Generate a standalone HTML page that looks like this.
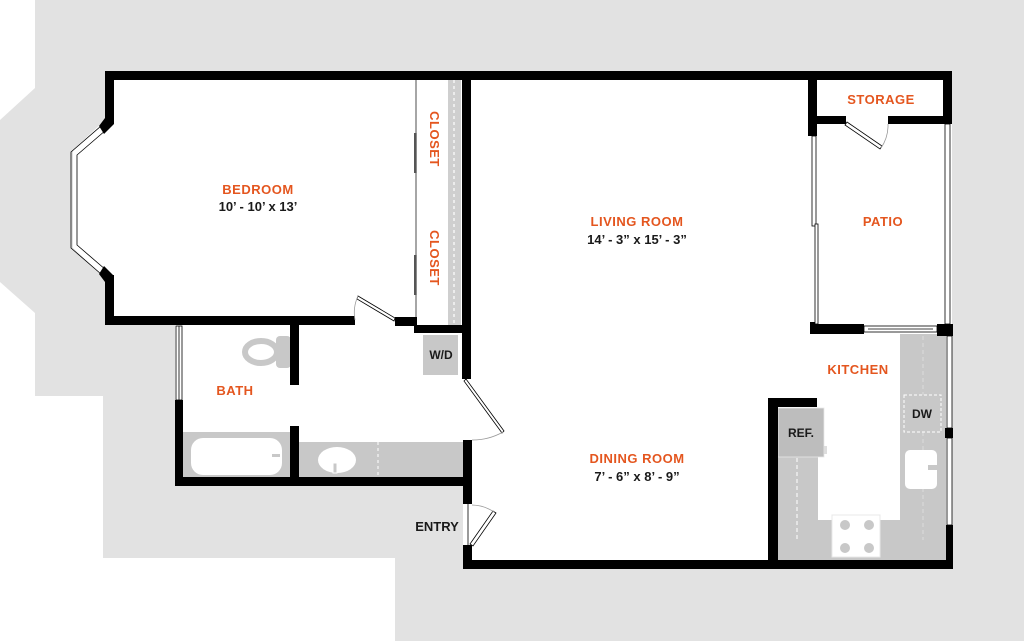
<!DOCTYPE html>
<html><head><meta charset="utf-8"><style>
html,body{margin:0;padding:0;background:#fff;}
svg{display:block;}
text{font-family:"Liberation Sans",sans-serif;font-weight:bold;}
.o{fill:#e4561f;font-size:13px;letter-spacing:0.5px;}
.k{fill:#1a1a1a;font-size:13px;}
</style></head><body>
<svg width="1024" height="641" viewBox="0 0 1024 641" xmlns="http://www.w3.org/2000/svg">
<rect width="1024" height="641" fill="#fff"/>
<polygon fill="#e2e2e2" points="35,0 1024,0 1024,641 395,641 395,558 103,558 103,396 35,396 35,313 0,282 0,120 35,88"/>
<!-- interior white -->
<polygon fill="#fff" points="105,71 952,71 952,569 463,569 463,486 175,486 175,324 105,324 105,278 73,248 73,150 105,120"/>
<!-- closet gray strip -->
<rect x="448" y="80" width="13" height="245" fill="#cfcfcf"/>
<line x1="454" y1="80" x2="454" y2="325" stroke="#fff" stroke-width="1.2" stroke-dasharray="3,3"/>
<line x1="416" y1="80" x2="416" y2="325" stroke="#888" stroke-width="1.5"/>
<rect x="414" y="133" width="2.5" height="40" fill="#555"/>
<rect x="414" y="255" width="2.5" height="40" fill="#555"/>
<!-- W/D -->
<rect x="423" y="335" width="35" height="40" fill="#c8c8c8"/>
<!-- bath fixtures -->
<rect x="183" y="432" width="107" height="46" fill="#c8c8c8"/>
<rect x="191" y="438" width="91" height="37" rx="12" fill="#fff"/>
<rect x="272" y="454" width="8" height="3" fill="#c8c8c8"/>
<rect x="299" y="442" width="164" height="36" fill="#c8c8c8"/>
<ellipse cx="337" cy="460" rx="19" ry="13" fill="#fff"/>
<rect x="333" y="463" width="4" height="10" fill="#c8c8c8" stroke="#fff" stroke-width="1"/>
<line x1="378" y1="442" x2="378" y2="478" stroke="#fff" stroke-width="1" stroke-dasharray="3,3"/>
<ellipse cx="261" cy="352" rx="16" ry="11" fill="none" stroke="#c8c8c8" stroke-width="6"/>
<rect x="276" y="336" width="15" height="32" rx="4" fill="#c8c8c8"/>
<!-- kitchen counters -->
<rect x="778" y="408" width="40" height="152" fill="#c8c8c8"/>
<rect x="778" y="520" width="168" height="40" fill="#c8c8c8"/>
<rect x="900" y="334" width="46" height="226" fill="#c8c8c8"/>
<rect x="778" y="408" width="46" height="49" fill="#bdbdbd" stroke="#e8e8e8" stroke-width="0.8"/>
<rect x="824" y="446" width="3" height="8" fill="#ddd"/>
<line x1="797" y1="458" x2="797" y2="540" stroke="#fff" stroke-width="1" stroke-dasharray="4,3"/>
<line x1="923" y1="336" x2="923" y2="395" stroke="#ddd" stroke-width="1" stroke-dasharray="4,3"/>
<line x1="923" y1="432" x2="923" y2="540" stroke="#ddd" stroke-width="1" stroke-dasharray="4,3"/>
<rect x="904" y="395" width="37" height="37" fill="none" stroke="#fff" stroke-width="1" stroke-dasharray="3,2"/>
<rect x="905" y="450" width="32" height="39" rx="5" fill="#fff"/>
<rect x="928" y="465" width="12" height="5" fill="#c8c8c8"/>
<rect x="832" y="515" width="48" height="42" fill="#fff" stroke="#e8e8e8"/>
<circle cx="845" cy="525" r="5" fill="#c8c8c8"/><circle cx="869" cy="525" r="5" fill="#c8c8c8"/>
<circle cx="845" cy="548" r="5" fill="#c8c8c8"/><circle cx="869" cy="548" r="5" fill="#c8c8c8"/>
<!-- walls -->
<g fill="#000">
<rect x="105" y="71" width="847" height="9"/>
<rect x="105" y="71" width="9" height="53"/>
<rect x="105" y="275" width="9" height="50"/>
<polygon points="105,118 114,124 104,134 99,126"/>
<polygon points="105,282 114,276 104,266 99,274"/>
<rect x="105" y="316" width="250" height="9"/>
<rect x="395" y="317" width="22" height="9"/>
<rect x="414" y="325" width="49" height="8"/>
<rect x="462" y="71" width="9" height="308"/>
<rect x="463" y="440" width="9" height="46"/>
<rect x="175" y="477" width="297" height="9"/>
<rect x="175" y="400" width="8" height="86"/>
<rect x="290" y="324" width="9" height="61"/>
<rect x="290" y="426" width="9" height="60"/>
<rect x="463" y="486" width="9" height="18"/>
<rect x="463" y="545" width="9" height="24"/>
<rect x="463" y="560" width="315" height="9"/>
<rect x="768" y="398" width="10" height="171"/>
<rect x="768" y="398" width="49" height="9"/>
<rect x="768" y="560" width="185" height="9"/>
<rect x="946" y="525" width="7" height="44"/>
<rect x="943" y="71" width="9" height="53"/>
<rect x="808" y="71" width="9" height="65"/>
<rect x="808" y="116" width="38" height="8"/>
<rect x="888" y="116" width="64" height="8"/>
<rect x="810" y="324" width="54" height="10"/>
<rect x="810" y="322" width="7" height="12"/>
<rect x="937" y="324" width="16" height="12"/>
<rect x="945" y="428" width="8" height="10"/>
</g>
<!-- windows -->
<g fill="none" stroke="#000" stroke-width="0.8">
<polyline points="101,126 71,152 71,248 101,274"/>
<polyline points="106,130 77,155 77,245 106,270"/>
<rect x="176" y="326" width="6" height="74" fill="#fff"/>
<line x1="179" y1="326" x2="179" y2="400"/>
<rect x="812" y="136" width="4" height="90" fill="#fff"/>
<rect x="815" y="224" width="3" height="100" fill="#fff"/>
<rect x="945" y="124" width="5" height="200" fill="#fff"/>
<rect x="864" y="326" width="73" height="6" fill="#fff"/>
<line x1="868" y1="329" x2="933" y2="329"/>
<rect x="947" y="336" width="5" height="92" fill="#fff"/>
<rect x="947" y="438" width="5" height="87" fill="#fff"/>
</g>
<!-- doors -->
<g stroke="#000" stroke-width="0.8">
<polygon points="358,296 395,318 394,321 357,299" fill="#fff"/>
<path d="M358,296 A40,40 0 0 0 355,320" fill="none" stroke="#999"/>
<polygon points="466,379 504,431 502,433 464,381" fill="#fff"/>
<path d="M503,432 A62,62 0 0 1 472,440" fill="none" stroke="#999"/>
<polygon points="470,544 493,511 496,513 473,546" fill="#fff"/>
<path d="M472,505 A40,40 0 0 1 494,512" fill="none" stroke="#999"/>
<line x1="468" y1="504" x2="468" y2="545"/>
<polygon points="847,122 882,146 880,149 845,125" fill="#fff"/>
<path d="M888,124 A40,40 0 0 1 881,148" fill="none" stroke="#999"/>
</g>
<!-- labels -->
<text class="o" x="258" y="194" text-anchor="middle">BEDROOM</text>
<text class="k" x="258" y="211" text-anchor="middle">10’ - 10’ x 13’</text>
<text class="o" x="637" y="226" text-anchor="middle">LIVING ROOM</text>
<text class="k" x="637" y="244" text-anchor="middle">14’ - 3” x 15’ - 3”</text>
<text class="o" x="637" y="463" text-anchor="middle">DINING ROOM</text>
<text class="k" x="637" y="481" text-anchor="middle">7’ - 6” x 8’ - 9”</text>
<text class="o" x="881" y="104" text-anchor="middle">STORAGE</text>
<text class="o" x="883" y="226" text-anchor="middle">PATIO</text>
<text class="o" x="858" y="374" text-anchor="middle">KITCHEN</text>
<text class="o" x="235" y="395" text-anchor="middle">BATH</text>
<text class="o" transform="translate(430,139) rotate(90)" text-anchor="middle">CLOSET</text>
<text class="o" transform="translate(430,258) rotate(90)" text-anchor="middle">CLOSET</text>
<text class="k" x="437" y="531" text-anchor="middle">ENTRY</text>
<text class="k" x="441" y="359" text-anchor="middle" style="font-size:12px">W/D</text>
<text class="k" x="922" y="418" text-anchor="middle" style="font-size:12px">DW</text>
<text class="k" x="801" y="437" text-anchor="middle" style="font-size:12px">REF.</text>
</svg>
</body></html>
